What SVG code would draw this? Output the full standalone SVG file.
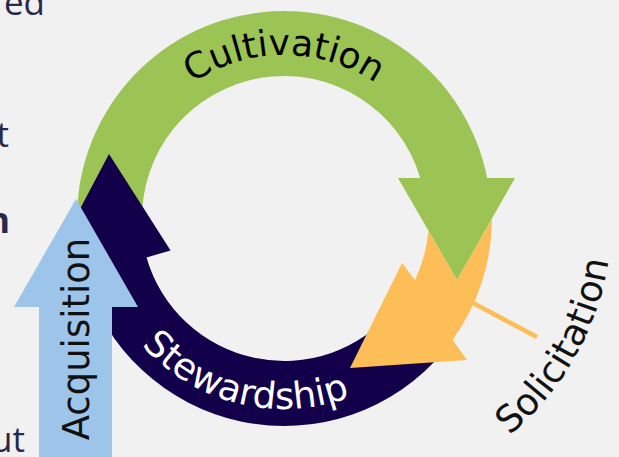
<svg xmlns="http://www.w3.org/2000/svg" width="619" height="457" viewBox="0 0 619 457">
<style>
.frag{font-family:"Open Sans","DejaVu Sans",sans-serif;font-size:35px;fill:#28284c}
.lbl{font-family:"DejaVu Sans","Liberation Sans",sans-serif}
</style>
<defs>
<path id="pCult" d="M 121,218 A 163 163 0 0 1 447,218"/>
<path id="pStew" d="M 100.4,270.6 A 191 191 0 0 0 421.4,350.7"/>
<path id="pSol" d="M 509.5,435.3 A 282 282 0 0 0 595,122"/>
</defs>
<rect width="619" height="457" fill="#f1f1f1"/>
<g id="fragments">
<text class="frag" x="45" y="15" text-anchor="end">ed</text>
<text class="frag" x="9" y="147" text-anchor="end">t</text>
<text class="frag" x="10" y="233" text-anchor="end" font-weight="bold">n</text>
<text class="frag" x="25" y="452" text-anchor="end">ut</text>
</g>
<g id="connectors">
<line x1="473" y1="303" x2="537" y2="337" stroke="#fdbd57" stroke-width="4.5"/>
</g>
<g id="cultivation">
<path d="M 77.13,225.22 A 207 207 0 0 1 487.1,178 L 515,178 L 457,280 L 398,178 L 420.25,178 A 142 142 0 0 0 142.09,222.96 Z" fill="#9bc455"/>
<text class="lbl" font-size="36" fill="#000"><textPath href="#pCult" startOffset="50%" text-anchor="middle">Cultivation</textPath></text>
</g>
<g id="stewardship">
<path d="M 443.34,351.70 A 208 208 0 0 1 84.06,275.33 L 37.92,288.56 L 109,154 L 170.57,250.53 L 146.54,257.42 A 143 143 0 0 0 393.54,309.92 Z" fill="#13004a"/>
<text class="lbl" font-size="37" fill="#fff"><textPath href="#pStew" startOffset="50%" text-anchor="middle">Stewardship</textPath></text>
</g>
<g id="solicitation">
<path d="M 492.0,218.45 A 208 208 0 0 1 452.6,339.8 L 467,360 L 350,368 L 402,263 L 415,280 A 145 145 0 0 0 428.45,230.64 L 457,280 Z" fill="#fdbd57"/>
<text class="lbl" font-size="37" fill="#111"><textPath href="#pSol">Solicitation</textPath></text>
</g>
<g id="acquisition">
<polygon points="76,199 138,307 112,307 112,457 39,457 39,307 14,307" fill="#9dc5ea"/>
<text class="lbl" font-size="37" fill="#111" text-anchor="middle" transform="translate(89,339) rotate(-90)">Acquisition</text>
</g>
</svg>
